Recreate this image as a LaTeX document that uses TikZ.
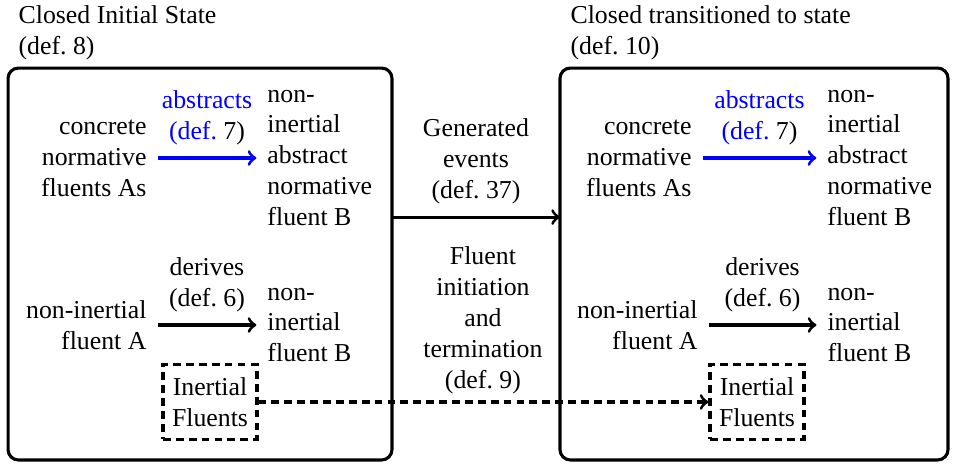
\documentclass[tikz,border=0pt]{standalone}
\usepackage{fontspec}
\setmainfont{Liberation Serif}
\usetikzlibrary{positioning}
\tikzset{
  frame/.style={draw, line width=1.2pt, rounded corners=4pt, outer sep=0pt,
    minimum width=#1, minimum height=151.9pt},
  txt/.style={inner sep=0pt},
  lbl/.style={inner sep=0pt, align=center},
  arr/.style={->, line width=1.2pt},
  link/.style={arr, shorten <=4.3pt, shorten >=4.1pt},
  dbox/.style={draw, line width=1.2pt, dash pattern=on 3pt off 2pt,
    inner xsep=3.5pt, inner ysep=5pt, align=center},
}
\begin{document}
\begin{tikzpicture}[x=0.3876pt, y=-0.3876pt]
\useasboundingbox (0,0) rectangle (956,466);

\node[frame=148.8pt] (L) at (200,264) {};
\node[frame=150.4pt] (R) at (754,264) {};
\node[txt, align=left, anchor=south west, xshift=3.9pt, yshift=3.1pt] (TL) at (L.north west) {Closed Initial State\\(def.~8)};
\node[txt, align=left, anchor=south west, xshift=3.9pt, yshift=3.1pt] (TR) at (R.north west) {Closed transitioned to state\\(def.~10)};

\node[txt, align=right, anchor=east] (C) at (147,158) {concrete\\normative\\fluents As};
\node[txt, align=left, right=46.5pt of C] (B) {non-\\inertial\\abstract\\normative\\fluent B};
\node[txt, align=right, anchor=east] (A) at (147,325) {non-inertial\\fluent A};
\node[txt, align=left, right=46.5pt of A] (N) {non-\\inertial\\fluent B};
\node[dbox] (I) at (210,402) {Inertial\\Fluents};

\node[txt, align=right, anchor=east] (C2) at (692,158) {concrete\\normative\\fluents As};
\node[txt, align=left, right=52.3pt of C2] (B2) {non-\\inertial\\abstract\\normative\\fluent B};
\node[txt, align=right, anchor=east] (A2) at (698,325) {non-inertial\\fluent A};
\node[txt, align=left, right=50pt of A2] (N2) {non-\\inertial\\fluent B};
\node[dbox] (I2) at (757,402) {Inertial\\Fluents};

\draw[link, blue] (C) -- node[lbl, above=4.3pt] {abstracts\\{\color{blue}(def.}~\textcolor{black}{7)}} (B);
\draw[link] (A) -- node[lbl, above=4.3pt] {derives\\(def.~6)} (N);
\draw[link, blue] (C2) -- node[lbl, above=4.3pt] {abstracts\\{\color{blue}(def.}~\textcolor{black}{7)}} (B2);
\draw[link] (A2) -- node[lbl, above=4.3pt] {derives\\(def.~6)} (N2);

\draw[arr] ([yshift=18.2pt]L.east) -- node[lbl, above=4.3pt] {Generated\\events\\(def.~37)}
  node[lbl, below=11pt, xshift=2.7pt] {Fluent\\initiation\\and\\termination\\(def.~9)} ([yshift=18.2pt]R.west);
\draw[arr, dash pattern=on 3pt off 2pt] (I) -- (I2);
\end{tikzpicture}
\end{document}
